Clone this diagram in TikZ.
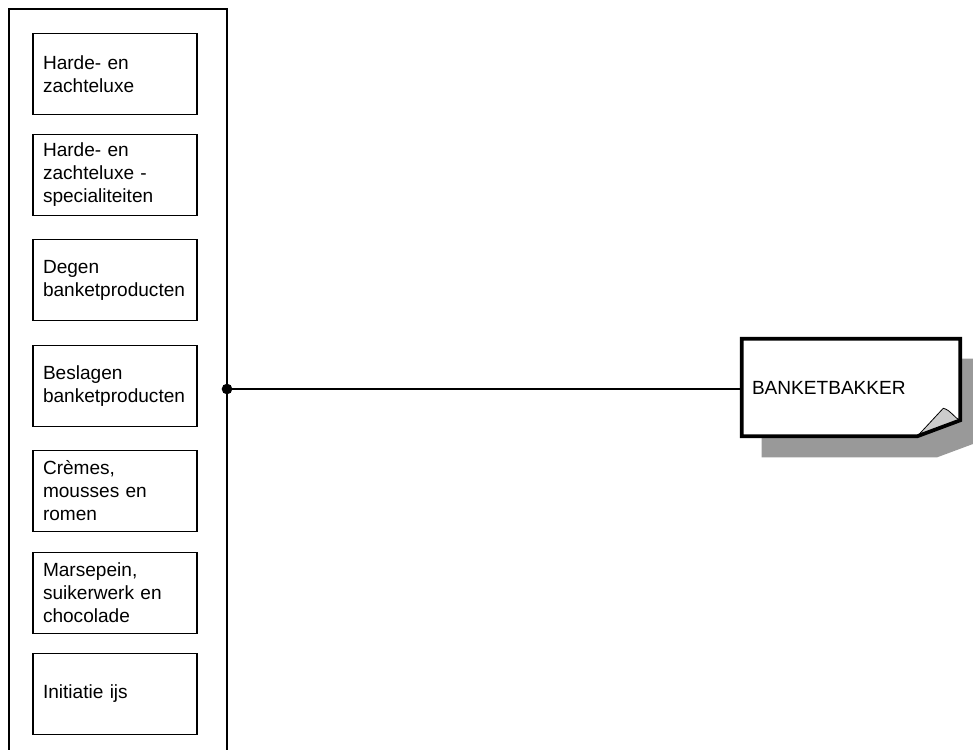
\documentclass[tikz,border=0pt]{standalone}
\usepackage{fontspec}
\setmainfont{Liberation Sans}
\usetikzlibrary{calc, backgrounds}
\definecolor{schaduw}{rgb}{0.6 0.6 0.6}
\definecolor{krul}{rgb}{0.8 0.8 0.8}

\begin{document}
\begin{tikzpicture}[x=0.75pt, y=-0.75pt,
    module/.style={draw, line width=0.85pt, minimum width=123pt, minimum height=61pt, inner xsep=7.5pt, inner ysep=0pt, text width=108pt, align=left, font=\fontsize{14.3}{17.25}\selectfont},
    beroep/.style={minimum width=163.5pt, minimum height=72.75pt, inner xsep=7.5pt, inner ysep=0pt, text width=148.5pt, align=left, font=\fontsize{14.3}{17.25}\selectfont}]
            \clip (0,0) rectangle (973,749);

            % kolom met modules
            \draw[line width=0.85pt] (9,770) -- (9,9) -- (227,9) -- (227,770);
            \node[module] (harde) at (115,74) {Harde- en\\zachteluxe};
            \node[module] (special) at (115,175) {Harde- en\\zachteluxe -\\specialiteiten};
            \node[module] (degen) at (115,280) {Degen\\banketproducten};
            \node[module] (beslagen) at (115,386) {Beslagen\\banketproducten};
            \node[module] (cremes) at (115,491) {Cr\`emes,\\mousses en\\romen};
            \node[module] (marsepein) at (115,593) {Marsepein,\\suikerwerk en\\chocolade};
            \node[module] (ijs) at (115,694) {Initiatie ijs};

            % beroep met schaduw en omgekrulde hoek
            \node[beroep] (bakker) at (851,387.5) {BANKETBAKKER};
            \begin{pgfonlayer}{background}
            \fill[schaduw] ($(bakker.north west)+(20,20)$) -- ($(bakker.north east)+(20,20)$) -- ($(bakker.south east)+(20,5)$) -- ($(bakker.south east)+(-23,21)$) -- ($(bakker.south west)+(20,21)$) -- cycle;
            \fill[white] (bakker.north west) -- (bakker.north east) -- ($(bakker.south east)+(0,-16)$) -- ($(bakker.south east)+(-43,0)$) -- (bakker.south west) -- cycle;
            \draw[fill=krul, line width=0.6pt] ($(bakker.south east)+(-43,0)$) -- ($(bakker.south east)+(-17,-28)$) .. controls ($(bakker.south east)+(-9,-26)$) and ($(bakker.south east)+(-6,-18)$) .. ($(bakker.south east)+(0,-16)$);
            \draw[line width=2.8pt, line join=miter] (bakker.north west) -- (bakker.north east) -- ($(bakker.south east)+(0,-16)$) -- ($(bakker.south east)+(-43,0)$) -- (bakker.south west) -- cycle;
            \end{pgfonlayer}

            % verbinding
            \coordinate (aansluit) at (227,389);
            \draw[line width=0.85pt] (aansluit) -- (aansluit -| bakker.west);
            \fill (aansluit) circle[radius=4pt];
\end{tikzpicture}
\end{document}
